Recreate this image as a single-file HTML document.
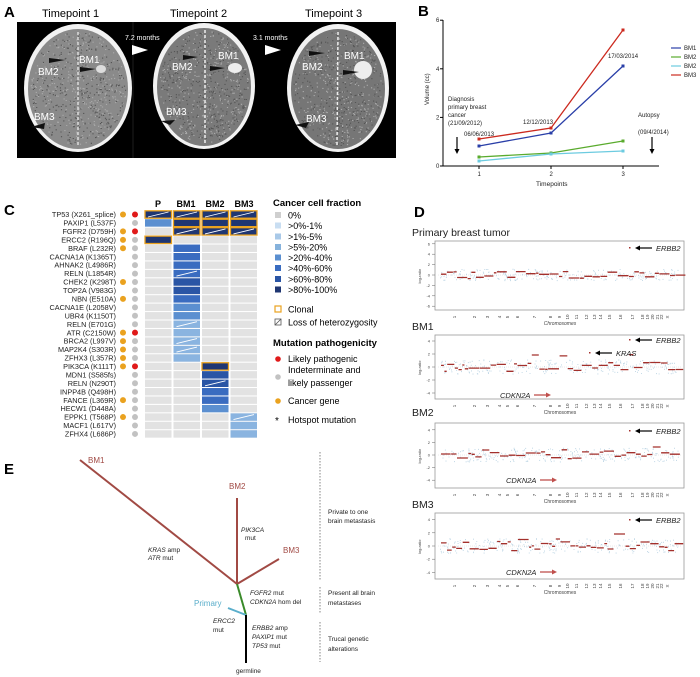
<!DOCTYPE html>
<html><head><meta charset="utf-8"><style>
html,body{margin:0;padding:0;background:#fff;}
svg{display:block;font-family:"Liberation Sans",Arial,sans-serif;}
</style></head><body>
<svg id="s" width="700" height="677" viewBox="0 0 700 677" xmlns="http://www.w3.org/2000/svg">
<!-- Panel A -->
<text x="4" y="17" font-size="15" font-weight="bold">A</text>
<text x="42" y="17" font-size="11">Timepoint 1</text>
<text x="170" y="17" font-size="11">Timepoint 2</text>
<text x="305" y="17" font-size="11">Timepoint 3</text>
<rect x="17" y="22" width="379" height="136" fill="#000"/>
<line x1="133" y1="22" x2="133" y2="158" stroke="#333" stroke-width="0.6"/>
<g>
<ellipse cx="78" cy="88" rx="54" ry="64" fill="#f2f2f2"/>
<ellipse cx="78" cy="89" rx="50" ry="60" fill="#8a8a8a"/>
<ellipse cx="204" cy="86" rx="51" ry="63" fill="#f2f2f2"/>
<ellipse cx="204" cy="87" rx="47" ry="59" fill="#7a7a7a"/>
<ellipse cx="338" cy="88" rx="51" ry="64" fill="#f2f2f2"/>
<ellipse cx="338" cy="89" rx="47" ry="60" fill="#767676"/>
<g id="tex"></g>
<line x1="78" y1="32" x2="78" y2="146" stroke="#ddd" stroke-width="1.5" stroke-dasharray="3,2"/>
<line x1="205" y1="30" x2="205" y2="144" stroke="#eee" stroke-width="1.5" stroke-dasharray="3,2"/>
<line x1="338" y1="32" x2="337" y2="146" stroke="#eee" stroke-width="1.5" stroke-dasharray="3,2"/>
<ellipse cx="101" cy="69" rx="5" ry="4" fill="#ddd"/>
<ellipse cx="235" cy="68" rx="7" ry="5" fill="#eee"/>
<ellipse cx="363" cy="70" rx="9" ry="9" fill="#eee"/>
</g>
<g fill="#fff" font-size="10">
<text x="79" y="63">BM1</text><text x="38" y="75">BM2</text><text x="34" y="120">BM3</text>
<text x="218" y="59">BM1</text><text x="172" y="70">BM2</text><text x="166" y="115">BM3</text>
<text x="344" y="59">BM1</text><text x="302" y="70">BM2</text><text x="306" y="122">BM3</text>
<text x="125" y="40" font-size="7">7.2 months</text>
<text x="253" y="40" font-size="7">3.1 months</text>
<polygon points="132,45 132,55 148,50"/>
<polygon points="265,45 265,55 281,50"/>
</g>
<g fill="#111">
<polygon points="49,58 65,60 49,63"/><polygon points="80,67 96,69 80,72"/><polygon points="31,127 45,123 44,129"/>
<polygon points="183,55 198,57 183,60"/><polygon points="210,66 225,68 210,71"/><polygon points="161,121 175,120 170,125"/>
<polygon points="309,51 325,53 309,56"/><polygon points="343,70 359,72 343,75"/><polygon points="295,125 309,122 306,128"/>
</g>

<!-- Panel B -->
<text x="418" y="16" font-size="15" font-weight="bold">B</text>
<g id="B" font-size="6" fill="#222"></g>

<!-- Panel C -->
<text x="4" y="215" font-size="15" font-weight="bold">C</text>
<g id="C" font-size="7.3"></g>

<!-- Panel D -->
<text x="414" y="217" font-size="15" font-weight="bold">D</text>
<g id="D"></g>

<!-- Panel E -->
<text x="4" y="474" font-size="15" font-weight="bold">E</text>
<g stroke-width="2" fill="none">
<line x1="80" y1="460" x2="237" y2="584" stroke="#a14a44"/>
<line x1="237" y1="498" x2="237" y2="584" stroke="#a14a44"/>
<line x1="279" y1="559" x2="237" y2="584" stroke="#a14a44"/>
<line x1="237" y1="584" x2="246" y2="615" stroke="#3a8a2a"/>
<line x1="228" y1="608" x2="246" y2="615" stroke="#5aaecb"/>
<line x1="246" y1="615" x2="246" y2="663" stroke="#000"/>
</g>
<g fill="#a14a44" font-size="8">
<text x="88" y="463">BM1</text><text x="229" y="489">BM2</text><text x="283" y="553">BM3</text>
</g>
<text x="194" y="606" font-size="8" fill="#5aaecb">Primary</text>
<g font-size="6.5" fill="#222">
<text x="241" y="532"><tspan font-style="italic">PIK3CA</tspan></text>
<text x="245" y="540">mut</text>
<text x="148" y="552"><tspan font-style="italic">KRAS</tspan> amp</text>
<text x="148" y="560"><tspan font-style="italic">ATR</tspan> mut</text>
<text x="250" y="595"><tspan font-style="italic">FGFR2</tspan> mut</text>
<text x="250" y="604"><tspan font-style="italic">CDKN2A</tspan> hom del</text>
<text x="213" y="623" font-style="italic">ERCC2</text>
<text x="213" y="632">mut</text>
<text x="252" y="630"><tspan font-style="italic">ERBB2</tspan> amp</text>
<text x="252" y="639"><tspan font-style="italic">PAXIP1</tspan> mut</text>
<text x="252" y="648"><tspan font-style="italic">TP53</tspan> mut</text>
<text x="236" y="673">germline</text>
<text x="328" y="514">Private to one</text>
<text x="328" y="523">brain metastasis</text>
<text x="328" y="595">Present all brain</text>
<text x="328" y="605">metastases</text>
<text x="328" y="641">Trucal genetic</text>
<text x="328" y="651">alterations</text>
</g>
<g stroke="#666" stroke-dasharray="1.5,1.5" stroke-width="0.8">
<line x1="320" y1="452" x2="320" y2="580"/>
<line x1="320" y1="587" x2="320" y2="613"/>
<line x1="320" y1="622" x2="320" y2="662"/>
</g>
</svg>
<script>
(function(){
var NS="http://www.w3.org/2000/svg";
function el(p,t,a,txt){var e=document.createElementNS(NS,t);for(var k in a)e.setAttribute(k,a[k]);if(txt!=null)e.textContent=txt;p.appendChild(e);return e;}
var seed=7;function rnd(){seed=(seed*9301+49297)%233280;return seed/233280;}
// brain texture
var T=document.getElementById("tex");
[[78,89,50,60],[204,87,47,59],[338,89,47,60]].forEach(function(b){
 var s1="",s2="";
 for(var k=0;k<700;k++){var a=rnd()*6.283,r=Math.sqrt(rnd())*0.95;var x=b[0]+Math.cos(a)*r*b[2],y=b[1]+Math.sin(a)*r*b[3];
  if(rnd()<0.5)s1+="M"+x.toFixed(1)+" "+y.toFixed(1)+"h1.2";else s2+="M"+x.toFixed(1)+" "+y.toFixed(1)+"h1.2";}
 el(T,"path",{d:s1,stroke:"#aaa","stroke-width":1.1,fill:"none"});
 el(T,"path",{d:s2,stroke:"#555","stroke-width":1.1,fill:"none"});
});
// Panel B
var B=document.getElementById("B");
el(B,"line",{x1:443,y1:20,x2:443,y2:166,stroke:"#000","stroke-width":1});
el(B,"line",{x1:443,y1:166,x2:659,y2:166,stroke:"#000","stroke-width":1});
[0,2,4,6].forEach(function(v){var y=166-v*24.3;el(B,"line",{x1:440,y1:y,x2:443,y2:y,stroke:"#000"});el(B,"text",{x:436,y:y+2},""+v);});
[[479,1],[551,2],[623,3]].forEach(function(t){el(B,"line",{x1:t[0],y1:166,x2:t[0],y2:169,stroke:"#000"});el(B,"text",{x:t[0]-1.5,y:176},""+t[1]);});
el(B,"text",{x:536,y:186,"font-size":6.5},"Timepoints");
el(B,"text",{x:429,y:105,transform:"rotate(-90 429 105)","font-size":6},"Volume (cc)");
var L=[["#cc2a1f",[139,128,30]],["#2a3fa8",[146,133,66]],["#5aab2e",[157,153,141]],["#6ccbe0",[161,154,151]]];
L.forEach(function(l){var y=l[1];el(B,"polyline",{points:"479,"+y[0]+" 551,"+y[1]+" 623,"+y[2],fill:"none",stroke:l[0],"stroke-width":1.3});[479,551,623].forEach(function(x,i){el(B,"rect",{x:x-1.5,y:y[i]-1.5,width:3,height:3,fill:l[0]});});});
var lg=[["#2a3fa8","BM1",48],["#5aab2e","BM2",57],["#6ccbe0","BM2",66],["#cc2a1f","BM3",75]];
lg.forEach(function(g){el(B,"line",{x1:671,y1:g[2],x2:681,y2:g[2],stroke:g[0],"stroke-width":1.2});el(B,"text",{x:684,y:g[2]+2},g[1]);});
[["Diagnosis",448,101],["primary breast",448,109],["cancer",448,117],["(21/09/2012)",448,125],["06/06/2013",464,136],["12/12/2013",523,124],["17/03/2014",608,58],["Autopsy",638,117],["(09/4/2014)",638,134]].forEach(function(t){el(B,"text",{x:t[1],y:t[2]},t[0]);});
[457,652].forEach(function(x){el(B,"line",{x1:x,y1:137,x2:x,y2:150,stroke:"#000","stroke-width":1.2});el(B,"polygon",{points:(x-2.5)+",149 "+(x+2.5)+",149 "+x+",154",fill:"#000"});});

// Panel C
var C=document.getElementById("C");
var genes=["TP53 (X261_splice)","PAXIP1 (L537F)","FGFR2 (D759H)","ERCC2 (R196Q)","BRAF (L232R)","CACNA1A (K1365T)","AHNAK2 (L4986R)","RELN (L1854R)","CHEK2 (K298T)","TOP2A (V983G)","NBN (E510A)","CACNA1E (L2058V)","UBR4 (K1150T)","RELN (E701G)","ATR (C2150W)","BRCA2 (L997V)","MAP2K4 (S303R)","ZFHX3 (L357R)","PIK3CA (K111T)","MDN1 (S585fs)","RELN (N290T)","INPP4B (Q498H)","FANCE (L369R)","HECW1 (D448A)","EPPK1 (T568P)","MACF1 (L617V)","ZFHX4 (L686P)"];
var orange=[0,2,3,4,8,10,14,15,16,17,18,22,24],red=[0,2,14,18];
var cols=[145,173.5,202,230.5],cw=26.5;
var D1="#1f3672",D2="#2a55a5",D3="#3a6cc0",D4="#5b8fd0",D5="#8ab4e0",G="#e2e2e2";
var cells={0:[[0,D1,1,1],[1,D1,1,1],[2,D1,1,1],[3,D1,1,1]],1:[[0,D4,0,0],[1,D1,0,1],[2,D1,0,1],[3,D1,0,1]],2:[[1,D1,1,1],[2,D1,1,1],[3,D1,1,1]],3:[[0,D1,0,1]],
4:[[1,D3]],5:[[1,D3]],6:[[1,D3]],7:[[1,D3,1]],8:[[1,D2]],9:[[1,D2]],10:[[1,D3]],11:[[1,D4]],12:[[1,D4]],13:[[1,D5,1]],14:[[1,D5]],15:[[1,D5,1]],16:[[1,D5,1]],17:[[1,D5]],
18:[[2,D1,0,1]],19:[[2,D2]],20:[[2,D2,1]],21:[[2,D3]],22:[[2,D3]],23:[[2,D4]],24:[[3,D5,1]],25:[[3,D5]],26:[[3,D5]]};
[["P",158],["BM1",186],["BM2",215],["BM3",244]].forEach(function(h){el(C,"text",{x:h[1],y:207,"font-size":9,"font-weight":"bold","text-anchor":"middle"},h[0]);});
genes.forEach(function(g,i){var y=214.5+i*8.44;
 el(C,"text",{x:116,y:y+2.6,"text-anchor":"end",fill:"#222"},g);
 if(orange.indexOf(i)>=0)el(C,"circle",{cx:123,cy:y,r:3,fill:"#eaa21f"});
 el(C,"circle",{cx:135,cy:y,r:3,fill:red.indexOf(i)>=0?"#e01a1a":"#c2c2c2"});
 cols.forEach(function(x){el(C,"rect",{x:x,y:y-3.7,width:cw,height:7.4,fill:G});});
 (cells[i]||[]).forEach(function(c){var x=cols[c[0]];
  el(C,"rect",{x:x,y:y-3.7,width:cw,height:7.4,fill:c[1],stroke:c[3]?"#eaa21f":"none","stroke-width":c[3]?1.3:0});
  if(c[2])el(C,"line",{x1:x+3,y1:y+2.5,x2:x+cw-3,y2:y-2.5,stroke:"#fff","stroke-width":0.9});});
});
el(C,"text",{x:273,y:206,"font-size":9.5,"font-weight":"bold"},"Cancer cell fraction");
var lc=[["#cfcfcf","0%"],["#c9def2","&gt;0%-1%"],["#a9c9e8","&gt;1%-5%"],["#86b2dc","&gt;5%-20%"],["#5b8fd0","&gt;20%-40%"],["#3a6cc0","&gt;40%-60%"],["#2a55a5","&gt;60%-80%"],["#1f3672","&gt;80%-100%"]];
var ly=[215,225.5,236.5,247,257.5,268,279,289.5];
lc.forEach(function(l,i){el(C,"rect",{x:275,y:ly[i]-3,width:6,height:6,fill:l[0]});var t=el(C,"text",{x:288,y:ly[i]+3.5,"font-size":9});t.innerHTML=l[1];});
el(C,"rect",{x:275,y:306,width:6,height:6,fill:"none",stroke:"#eaa21f","stroke-width":1.2});
el(C,"text",{x:288,y:312.5,"font-size":9},"Clonal");
el(C,"rect",{x:275,y:319,width:6,height:6,fill:"#fff",stroke:"#555","stroke-width":0.8});
el(C,"line",{x1:275,y1:325,x2:281,y2:319,stroke:"#555","stroke-width":0.8});
el(C,"text",{x:288,y:325.5,"font-size":9},"Loss of heterozygosity");
el(C,"text",{x:273,y:346,"font-size":9.5,"font-weight":"bold"},"Mutation pathogenicity");
el(C,"circle",{cx:278,cy:359,r:2.8,fill:"#e01a1a"});el(C,"text",{x:288,y:362,"font-size":9},"Likely pathogenic");
el(C,"circle",{cx:278,cy:377,r:2.8,fill:"#c2c2c2"});el(C,"text",{x:288,y:373,"font-size":9},"Indeterminate and");el(C,"text",{x:288,y:386,"font-size":9},"likely passenger");
el(C,"circle",{cx:278,cy:401,r:2.8,fill:"#eaa21f"});el(C,"text",{x:288,y:404,"font-size":9},"Cancer gene");
el(C,"text",{x:275,y:424,"font-size":10},"*");el(C,"text",{x:288,y:423,"font-size":9},"Hotspot mutation");

// Panel D
var D=document.getElementById("D");
var chx=[456,476,489,501,509,519,536,552,561,569,578,588,596,602,611,622,634,644,649,654,659,663,669];
var chn=["1","2","3","4","5","6","7","8","9","10","11","12","13","14","15","16","17","18","19","20","21","22","X"];
var panels=[{t:"Primary breast tumor",ty:236,y0:241,y1:310,ticks:[6,4,2,0,-2,-4,-6],scale:5.2,zero:275,labs:[["ERBB2",652,248,0]]},
{t:"BM1",ty:330,y0:335,y1:399,ticks:[4,2,0,-2,-4],scale:6.5,zero:367,labs:[["ERBB2",652,340,0],["KRAS",612,353,0],["CDKN2A",500,395,1]]},
{t:"BM2",ty:416,y0:423,y1:488,ticks:[4,2,0,-2,-4],scale:6.3,zero:455,labs:[["ERBB2",652,431,0],["CDKN2A",506,480,1]]},
{t:"BM3",ty:508,y0:513,y1:579,ticks:[4,2,0,-2,-4],scale:6.6,zero:546,labs:[["ERBB2",652,520,0],["CDKN2A",506,572,1]]}];
panels.forEach(function(p,pi){
 el(D,"text",{x:412,y:p.ty,"font-size":10.5,fill:"#222"},p.t);
 el(D,"rect",{x:435,y:p.y0,width:249,height:p.y1-p.y0,fill:"#fff",stroke:"#999","stroke-width":0.8});
 el(D,"line",{x1:438,y1:p.zero,x2:682,y2:p.zero,stroke:"#ccc","stroke-width":0.4,"stroke-dasharray":"1,1"});
 p.ticks.forEach(function(v){var y=p.zero-v*p.scale;el(D,"line",{x1:432,y1:y,x2:435,y2:y,stroke:"#666","stroke-width":0.5});el(D,"text",{x:430,y:y+1.5,"font-size":4,"text-anchor":"end",fill:"#444"},""+v);});
 el(D,"text",{x:421,y:(p.y0+p.y1)/2+8,"font-size":4,transform:"rotate(-90 421 "+((p.y0+p.y1)/2+8)+")",fill:"#444"},"log-ratio");
 chx.forEach(function(x,i){el(D,"text",{x:x,y:p.y1+7,"font-size":4.5,fill:"#444",transform:"rotate(-90 "+x+" "+(p.y1+7)+")","text-anchor":"middle"},chn[i]);});
 el(D,"text",{x:560,y:p.y1+15,"font-size":5,"text-anchor":"middle","font-style":pi==0?"italic":"normal",fill:"#444"},"Chromosomes");
 var s="";
 for(var k=0;k<260;k++){var x=440+rnd()*238;var y=p.zero+(rnd()-0.5)*p.scale*2.2;s+="M"+x.toFixed(1)+" "+y.toFixed(1)+"h0.8";}
 el(D,"path",{d:s,stroke:"#b9d3e3","stroke-width":1.1,fill:"none"});
 var sg="",x=441;
 while(x<678){var w=2+rnd()*9;var v=(rnd()-0.5)*1.4;if(rnd()<0.08)v+=1.2;var y=p.zero-v*p.scale;sg+="M"+x.toFixed(1)+" "+y.toFixed(1)+"h"+w.toFixed(1);x+=w+0.5;}
 el(D,"path",{d:sg,stroke:"#a3302c","stroke-width":1.3,fill:"none"});
 p.labs.forEach(function(l){
  if(l[3]==0){el(D,"text",{x:l[1]+4,y:l[2]+3,"font-size":7.5,"font-style":"italic",fill:"#222"},l[0]);
   el(D,"line",{x1:l[1]-14,y1:l[2],x2:l[1],y2:l[2],stroke:"#000","stroke-width":1.2});
   el(D,"polygon",{points:(l[1]-17)+","+l[2]+" "+(l[1]-12)+","+(l[2]-2.5)+" "+(l[1]-12)+","+(l[2]+2.5),fill:"#000"});
   el(D,"rect",{x:l[1]-23,y:l[2]-1,width:1.5,height:1.5,fill:"#a3302c"});}
  else{el(D,"text",{x:l[1],y:l[2]+3,"font-size":7.5,"font-style":"italic",fill:"#222"},l[0]);
   el(D,"line",{x1:l[1]+34,y1:l[2],x2:l[1]+47,y2:l[2],stroke:"#c0504d","stroke-width":1.3});
   el(D,"polygon",{points:(l[1]+51)+","+l[2]+" "+(l[1]+46)+","+(l[2]-2.5)+" "+(l[1]+46)+","+(l[2]+2.5),fill:"#c0504d"});}
 });
});
})();
</script>
</body></html>
